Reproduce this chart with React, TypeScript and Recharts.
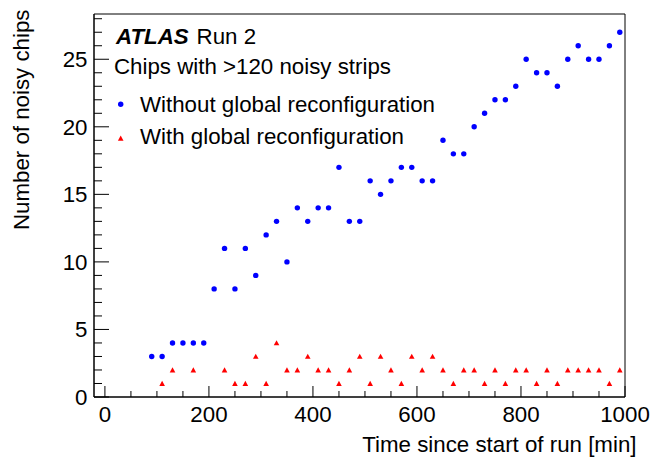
import React from "react"
import { ScatterChart, Scatter, XAxis, YAxis, ReferenceArea } from "recharts"

// values
const blueTimes = [90, 110, 130, 150, 170, 190, 210, 230, 250, 270, 290, 310, 330, 350, 370, 390, 410, 430, 450, 470, 490, 510, 530, 550, 570, 590, 610, 630, 650, 670, 690, 710, 730, 750, 770, 790, 810, 830, 850, 870, 890, 910, 930, 950, 970, 990]
const blueCounts = [3, 3, 4, 4, 4, 4, 8, 11, 8, 11, 9, 12, 13, 10, 14, 13, 14, 14, 17, 13, 13, 16, 15, 16, 17, 17, 16, 16, 19, 18, 18, 20, 21, 22, 22, 23, 25, 24, 24, 23, 25, 26, 25, 25, 26, 27]

const redTimes = [110, 130, 170, 230, 250, 270, 290, 310, 330, 350, 370, 390, 410, 430, 450, 470, 490, 510, 530, 550, 570, 590, 610, 630, 650, 670, 690, 710, 730, 750, 770, 790, 810, 830, 850, 870, 890, 910, 930, 950, 970, 990]
const redCounts = [1, 2, 2, 2, 1, 1, 3, 1, 4, 2, 2, 3, 2, 2, 1, 2, 3, 1, 3, 2, 1, 3, 2, 3, 2, 1, 2, 2, 1, 2, 1, 2, 2, 1, 2, 1, 2, 2, 2, 2, 1, 2]

const xTicks = [0, 50, 100, 150, 200, 250, 300, 350, 400, 450, 500, 550, 600, 650, 700, 750, 800, 850, 900, 950, 1000]
const xLabelTicks = [0, 200, 400, 600, 800, 1000]
const yTicks = [0, 1, 2, 3, 4, 5, 6, 7, 8, 9, 10, 11, 12, 13, 14, 15, 16, 17, 18, 19, 20, 21, 22, 23, 24, 25, 26, 27, 28]
const yLabelTicks = [0, 5, 10, 15, 20, 25]

const xDomain = [-21, 1000]
const yDomain = [0, 28.35]

const blueData = blueTimes.map((t, i) => ({ time: t, count: blueCounts[i] }))
const redData = redTimes.map((t, i) => ({ time: t, count: redCounts[i] }))

const font = "'Liberation Sans', Arial, Helvetica, sans-serif"
const FS = 22.3
const BLUE = "#0000ff"
const RED = "#ff0000"

const Dot = (props: any) => <circle cx={props.cx} cy={props.cy} r={2.7} fill={BLUE} />

const Tri = (props: any) => {
  const { cx, cy } = props
  const pts = `${cx - 2.8},${cy + 2.4} ${cx + 2.8},${cy + 2.4} ${cx},${cy - 2.8}`
  return <polygon points={pts} fill={RED} />
}

const XTick = (props: any) => {
  const { x, y, payload } = props
  const major = xLabelTicks.includes(payload.value)
  return (
    <g>
      <line x1={x} x2={x} y1={y} y2={y - (major ? 11 : 6)} stroke="#000" strokeWidth={1} />
      {major && (
        <text x={x} y={y + 24.5} textAnchor="middle" fontSize={FS} fontFamily={font} fill="#000">
          {payload.value}
        </text>
      )}
    </g>
  )
}

const YTick = (props: any) => {
  const { x, y, payload } = props
  const major = yLabelTicks.includes(payload.value)
  return (
    <g>
      <line x1={x} x2={x + (major ? 15 : 8)} y1={y} y2={y} stroke="#000" strokeWidth={1} />
      {major && (
        <text x={x - 6.5} y={y} dy="0.36em" textAnchor="end" fontSize={FS} fontFamily={font} fill="#000">
          {payload.value}
        </text>
      )}
    </g>
  )
}

export default function App() {
  return (
    <div style={{ position: "absolute", left: 0, top: 0, width: 650, height: 461, background: "#fff" }}>
      <ScatterChart width={650} height={461} margin={{ top: 14, right: 25, bottom: 0, left: 0 }}>
        <XAxis
          type="number"
          dataKey="time"
          domain={xDomain}
          ticks={xTicks}
          interval={0}
          height={64}
          tickSize={0}
          tickMargin={0}
          tickLine={false}
          axisLine={{ stroke: "#000" }}
          tick={<XTick />}
          allowDataOverflow
        />
        <YAxis
          type="number"
          dataKey="count"
          domain={yDomain}
          ticks={yTicks}
          interval={0}
          width={94}
          tickSize={0}
          tickMargin={0}
          tickLine={false}
          axisLine={{ stroke: "#000" }}
          tick={<YTick />}
          allowDataOverflow
        />
        <ReferenceArea x1={xDomain[0]} x2={xDomain[1]} y1={yDomain[0]} y2={yDomain[1]} fill="none" stroke="#000" strokeWidth={1} />
        <Scatter data={blueData} shape={<Dot />} isAnimationActive={false} />
        <Scatter data={redData} shape={<Tri />} isAnimationActive={false} />
      </ScatterChart>
      <svg width={650} height={461} style={{ position: "absolute", left: 0, top: 0, pointerEvents: "none" }}>
        <g fontFamily={font} fontSize={FS} fill="#000">
          <text x={116} y={44.3} fontWeight="bold" fontStyle="italic">ATLAS</text>
          <text x={196.6} y={44.3}>Run 2</text>
          <text x={114} y={74}>Chips with &gt;120 noisy strips</text>
          <circle cx={120.7} cy={104.3} r={2.7} fill={BLUE} />
          <text x={140} y={111.5}>Without global reconfiguration</text>
          <polygon points="117.9,140.7 123.5,140.7 120.7,135.5" fill={RED} />
          <text x={140} y={144}>With global reconfiguration</text>
          <text x={636.5} y={452} textAnchor="end">Time since start of run [min]</text>
          <text transform="translate(29.3,9.5) rotate(-90)" textAnchor="end">Number of noisy chips</text>
        </g>
      </svg>
    </div>
  )
}
